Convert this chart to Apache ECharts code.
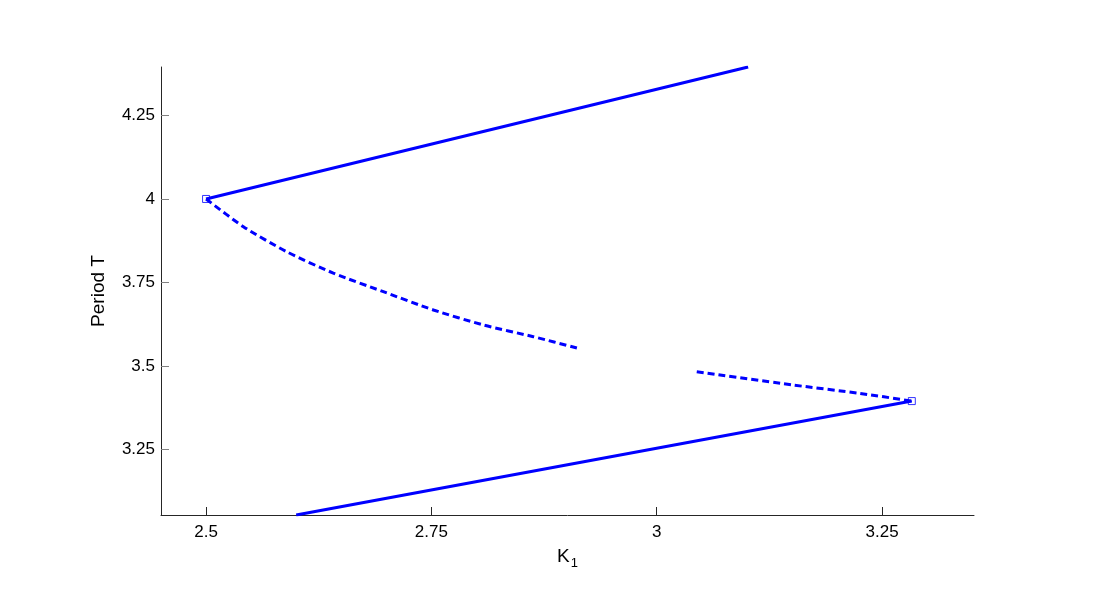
<!DOCTYPE html>
<html>
<head>
<meta charset="utf-8">
<script src="https://cdn.jsdelivr.net/npm/echarts@6/dist/echarts.min.js"></script>
<style>html,body{margin:0;padding:0;background:#fff}#c{width:1100px;height:600px}</style>
</head>
<body>
<div id="c"></div>
<script>
// Data
const xTicks = [2.5, 2.75, 3, 3.25];
const yTicks = [3.25, 3.5, 3.75, 4, 4.25];
const upperStable = [[2.5, 4.0], [3.1014, 4.395]];
const lowerStable = [[2.6, 3.054], [3.283, 3.395]];
const upperUnstable = [[2.5, 4.0], [2.5414, 3.917], [2.5895, 3.842], [2.6412, 3.778], [2.6967, 3.7225], [2.7522, 3.6677], [2.8077, 3.6228], [2.8631, 3.5877], [2.9131, 3.5527]];
const lowerUnstable = [[3.0444, 3.483], [3.1516, 3.443], [3.2256, 3.418], [3.283, 3.395]];
const foldPoints = [[2.5, 4.0], [3.283, 3.395]];

const blue = '#0000ff';
const font = 'Liberation Sans, Arial, Helvetica, sans-serif';
const chart = echarts.init(document.getElementById('c'));
chart.setOption({
  animation: false,
  backgroundColor: '#fff',
  grid: { left: 161, right: 126, top: 67, bottom: 85, containLabel: false },
  xAxis: {
    type: 'value', min: 2.45, max: 3.352,
    name: '{a|K}{b|1}', nameLocation: 'middle', nameGap: 28,
    nameTextStyle: {
      fontFamily: font, color: '#000',
      rich: { a: { fontSize: 19, fontFamily: font, color: '#000' }, b: { fontSize: 13, fontFamily: font, color: '#000', padding: [14, 0, 0, 1] } }
    },
    axisLine: { show: true, lineStyle: { color: '#262626', width: 1 } },
    axisTick: { show: true, inside: true, length: 8, customValues: xTicks, lineStyle: { color: '#262626' } },
    axisLabel: { customValues: xTicks, fontFamily: font, fontSize: 17, color: '#000', margin: 9, formatter: v => String(v) },
    splitLine: { show: false }
  },
  yAxis: {
    type: 'value', min: 3.054, max: 4.395,
    name: 'Period T', nameLocation: 'middle', nameGap: 53, nameRotate: 90,
    nameTextStyle: { fontFamily: font, fontSize: 19, color: '#000' },
    axisLine: { show: true, lineStyle: { color: '#262626', width: 1 } },
    axisTick: { show: true, inside: true, length: 8, customValues: yTicks, lineStyle: { color: '#808080' } },
    axisLabel: { customValues: yTicks, fontFamily: font, fontSize: 17, color: '#000', margin: 6, formatter: v => String(v) },
    splitLine: { show: false }
  },
  series: [
    { type: 'line', data: upperStable, symbol: 'none', lineStyle: { color: blue, width: 3 }, z: 2 },
    { type: 'line', data: lowerStable, symbol: 'none', lineStyle: { color: blue, width: 3 }, z: 2 },
    { type: 'line', data: upperUnstable, symbol: 'none', smooth: 0.25, lineStyle: { color: blue, width: 3, type: [7, 4] }, z: 2 },
    { type: 'line', data: lowerUnstable, symbol: 'none', smooth: 0.25, lineStyle: { color: blue, width: 3, type: [7, 4] }, z: 2 },
    { type: 'scatter', data: foldPoints, symbol: 'rect', symbolSize: 7, itemStyle: { color: 'rgba(255,255,255,0)', borderColor: blue, borderWidth: 1 }, z: 3 }
  ]
});
</script>
</body>
</html>
